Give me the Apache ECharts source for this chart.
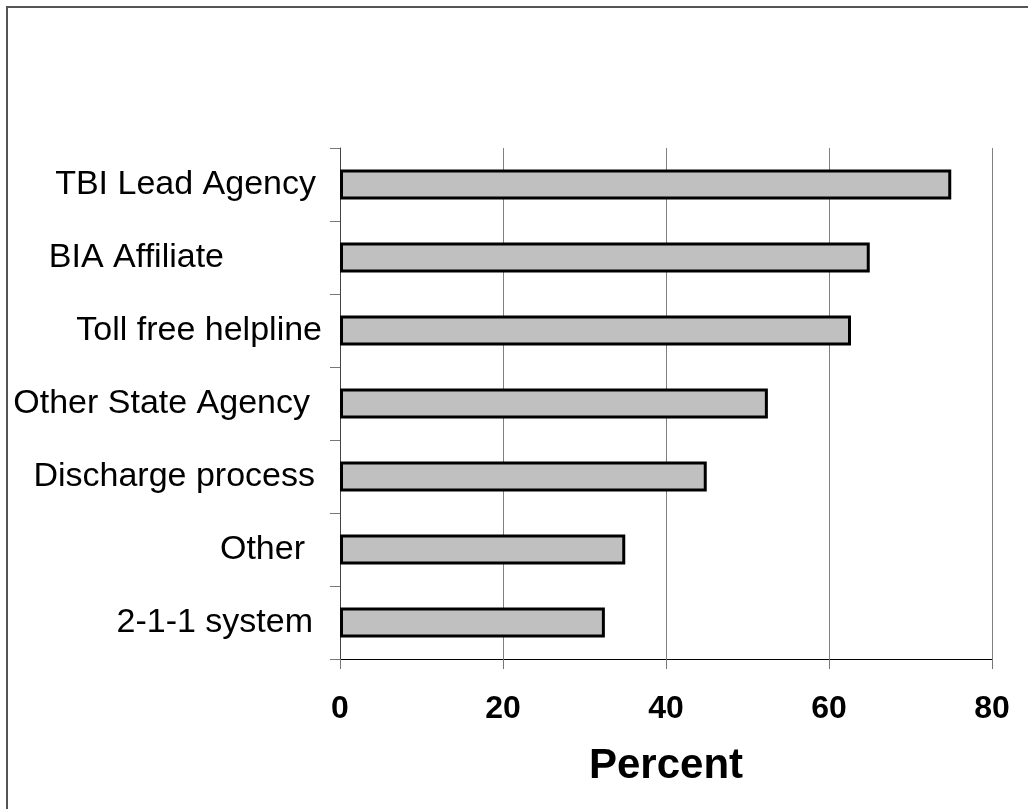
<!DOCTYPE html>
<html>
<head>
<meta charset="utf-8">
<script src="https://cdn.jsdelivr.net/npm/echarts@6/dist/echarts.min.js"></script>
<style>
html,body{margin:0;padding:0;background:#fff;}
#chart{width:1028px;height:809px;}
</style>
</head>
<body>
<div id="chart"></div>
<script>
var categories = ['TBI Lead Agency', 'BIA Affiliate', 'Toll free helpline', 'Other State Agency', 'Discharge process', 'Other', '2-1-1 system'];
var values = [75, 65, 62.7, 52.5, 45, 35, 32.5];
var xTicks = [0, 20, 40, 60, 80];
var axisTitle = 'Percent';

// right-side spacing of each category label (reference labels are not evenly aligned)
var labelGaps = [24, 116, 18, 30, 25, 35, 27];

var font = "'Liberation Sans', Arial, sans-serif";
var chart = echarts.init(document.getElementById('chart'));
chart.setOption({
  animation: false,
  backgroundColor: '#fff',
  graphic: [{
    type: 'rect',
    shape: {x: 7, y: 7, width: 1100, height: 900},
    style: {fill: 'none', stroke: '#555', lineWidth: 2},
    silent: true
  }],
  grid: {left: 340, right: 36, top: 148, bottom: 150, containLabel: false},
  xAxis: {
    type: 'value',
    min: xTicks[0],
    max: xTicks[xTicks.length - 1],
    interval: 20,
    name: axisTitle,
    nameLocation: 'middle',
    nameGap: 86,
    nameTextStyle: {fontFamily: font, fontSize: 42, fontWeight: 'bold', color: '#000'},
    axisLine: {show: true, lineStyle: {color: '#000', width: 1}},
    axisTick: {show: true, length: 10, lineStyle: {color: '#777', width: 1}},
    axisLabel: {margin: 34, fontFamily: font, fontSize: 32, fontWeight: 'bold', color: '#000'},
    splitLine: {show: true, lineStyle: {color: '#808080', width: 1}}
  },
  yAxis: {
    type: 'category',
    inverse: true,
    data: categories.map(function (c, i) {
      return {value: c, textStyle: {padding: [0, labelGaps[i], 0, 0]}};
    }),
    axisLine: {show: true, lineStyle: {color: '#444', width: 1}},
    axisTick: {show: true, length: 10, lineStyle: {color: '#777', width: 1}},
    axisLabel: {margin: 0, fontFamily: font, fontSize: 34, color: '#000'},
    splitLine: {show: false}
  },
  series: [{
    type: 'bar',
    data: values,
    barWidth: 30,
    itemStyle: {color: '#c0c0c0', borderColor: '#000', borderWidth: 3}
  }]
});
</script>
</body>
</html>
